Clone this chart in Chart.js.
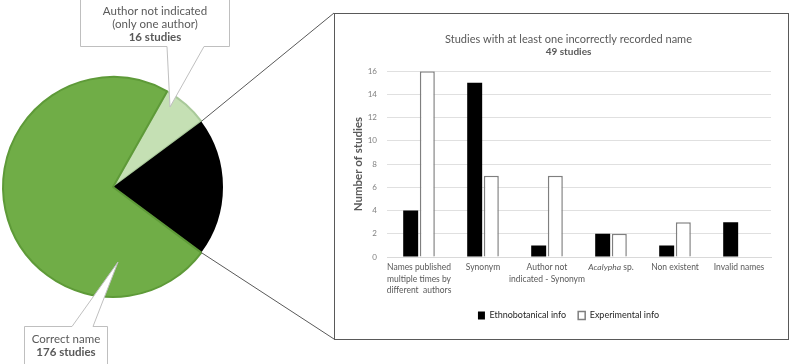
<!DOCTYPE html>
<html>
<head>
<meta charset="utf-8">
<script src="https://cdn.jsdelivr.net/npm/chart.js@4/dist/chart.umd.min.js"></script>
<style>
  html, body { margin: 0; padding: 0; background: #fff; }
  #wrap { position: relative; width: 790px; height: 364px; overflow: hidden; background: #fff; }
  #pie { position: absolute; left: 0; top: 0; }
  #box { position: absolute; left: 334px; top: 13px; width: 455px; height: 327px; box-sizing: border-box; border: 1px solid #595959; background: #fff; }
  #bar { position: absolute; left: 335px; top: 14px; }
</style>
</head>
<body>
<div id="wrap">
  <canvas id="pie" width="790" height="364"></canvas>
  <div id="box"></div>
  <canvas id="bar" width="453" height="325"></canvas>
</div>
<script>
// ---- data ----
const pieLabels = ['Author not indicated (only one author)', 'Studies with at least one incorrectly recorded name', 'Correct name'];
const pieValues = [16, 49, 176];
const barCategories = [
  ['Names published', 'multiple times by', 'different  authors'],
  'Synonym',
  ['Author not', 'indicated - Synonym'],
  'Acalypha sp.',
  'Non existent',
  'Invalid names'
];
const seriesNames = ['Ethnobotanical info', 'Experimental info'];
const ethnoValues = [4, 15, 1, 2, 1, 3];
const experValues = [16, 7, 7, 2, 3, null];
const yMin = 0, yMax = 16, yStep = 2;

const FONT = 'Lato, "Open Sans", sans-serif';
Chart.defaults.font.family = FONT;

// ---- pie ----
const boxEl = document.getElementById('box');
const pieDecor = {
  id: 'pieDecor',
  afterDraw(chart) {
    const ctx = chart.ctx;
    const arc = chart.getDatasetMeta(0).data[1];
    const r = arc.outerRadius;
    const bx = boxEl.offsetLeft, by = boxEl.offsetTop, bh = boxEl.offsetHeight;
    ctx.save();
    ctx.strokeStyle = '#595959';
    ctx.lineWidth = 1;
    ctx.beginPath();
    ctx.moveTo(arc.x + r * Math.cos(arc.startAngle), arc.y + r * Math.sin(arc.startAngle));
    ctx.lineTo(bx, by);
    ctx.moveTo(arc.x + r * Math.cos(arc.endAngle), arc.y + r * Math.sin(arc.endAngle));
    ctx.lineTo(bx, by + bh - 1);
    ctx.stroke();

    function callout(pts, lines, cx, y0) {
      ctx.beginPath();
      pts.forEach((p, i) => i ? ctx.lineTo(p[0], p[1]) : ctx.moveTo(p[0], p[1]));
      ctx.closePath();
      ctx.fillStyle = '#fff';
      ctx.fill();
      ctx.strokeStyle = '#bfbfbf';
      ctx.lineWidth = 1;
      ctx.stroke();
      ctx.fillStyle = '#595959';
      ctx.textAlign = 'center';
      ctx.textBaseline = 'middle';
      lines.forEach((l, i) => {
        ctx.font = (l.bold ? 'bold ' : '') + '11.5px ' + FONT;
        ctx.fillText(l.t, cx, y0 + i * 13);
      });
    }
    callout([[80.5, -1], [229.5, -1], [229.5, 46.5], [204, 46.5], [170, 107], [167, 46.5], [80.5, 46.5]],
      [{t: 'Author not indicated'}, {t: '(only one author)'}, {t: pieValues[0] + ' studies', bold: true}], 155, 11);
    callout([[24.5, 326.5], [72, 326.5], [118, 262], [93, 326.5], [107.5, 326.5], [107.5, 366], [24.5, 366]],
      [{t: 'Correct name'}, {t: pieValues[2] + ' studies', bold: true}], 66, 339);
    ctx.restore();
  }
};

new Chart(document.getElementById('pie'), {
  type: 'pie',
  data: {
    labels: pieLabels,
    datasets: [{
      data: pieValues,
      backgroundColor: ['#C5E0B4', '#000000', '#70AD47'],
      borderColor: ['#A9C99A', '#000000', '#5E9A38'],
      borderWidth: [2, 0, 2]
    }]
  },
  options: {
    responsive: false,
    animation: false,
    rotation: 29.5,
    layout: { padding: { left: 2, top: 76, right: 566, bottom: 66 } },
    plugins: { legend: { display: false }, tooltip: { enabled: false } }
  },
  plugins: [pieDecor]
});

// ---- bar ----
const italicTick = {
  id: 'italicTick',
  afterDraw(chart) {
    const xs = chart.scales.x;
    const idx = 3;
    const items = xs.getLabelItems();
    const it = items[idx];
    if (!it) return;
    const ctx = chart.ctx;
    const [tx, ty] = it.options.translation;
    ctx.save();
    ctx.fillStyle = '#595959';
    ctx.textBaseline = it.options.textBaseline || 'top';
    const y = ty + (it.textOffset || 0);
    const a = 'Acalypha', b = ' sp.';
    ctx.font = 'italic 8.5px ' + FONT;
    const wa = ctx.measureText(a).width;
    ctx.font = '8.5px ' + FONT;
    const wb = ctx.measureText(b).width;
    const x0 = tx - (wa + wb) / 2;
    ctx.textAlign = 'left';
    ctx.font = 'italic 8.5px ' + FONT;
    ctx.fillText(a, x0, y);
    ctx.font = '8.5px ' + FONT;
    ctx.fillText(b, x0 + wa, y);
    ctx.restore();
  }
};

new Chart(document.getElementById('bar'), {
  type: 'bar',
  data: {
    labels: barCategories,
    datasets: [
      { label: seriesNames[0], data: ethnoValues, backgroundColor: '#000000', borderColor: '#000000', borderWidth: 0 },
      { label: seriesNames[1], data: experValues, backgroundColor: '#ffffff', borderColor: '#7f7f7f', borderWidth: 1.5 }
    ]
  },
  options: {
    responsive: false,
    animation: false,
    datasets: { bar: { categoryPercentage: 0.52, barPercentage: 0.9 } },
    layout: { padding: { left: 31, right: 17, top: 0, bottom: 9 } },
    scales: {
      x: {
        afterFit(s) { s.height = 42; },
        grid: { display: false, drawTicks: false },
        border: { display: true, color: '#d9d9d9', width: 1 },
        ticks: {
          padding: 5,
          maxRotation: 0,
          autoSkip: false,
          font: { size: 8.5, lineHeight: 1.35 },
          color: (c) => c.index === 3 ? 'rgba(0,0,0,0)' : '#595959'
        }
      },
      y: {
        min: yMin, max: yMax,
        afterFit(s) { s.width = 21; },
        grid: { color: '#e0e0e0', drawTicks: false },
        border: { display: false },
        ticks: { stepSize: yStep, padding: 10, font: { size: 8 }, color: '#7f7f7f' },
        title: { display: true, text: 'Number of studies', color: '#595959', font: { size: 11.5, weight: 'bold' }, padding: { top: -14.5, bottom: 0 } }
      }
    },
    plugins: {
      title: { display: true, text: 'Studies with at least one incorrectly recorded name', color: '#595959', font: { size: 11, weight: 'normal' }, padding: { top: 19, bottom: 0 } },
      subtitle: { display: true, text: '49 studies', color: '#595959', font: { size: 10, weight: 'bold' }, padding: { top: 0, bottom: 13 } },
      legend: {
        position: 'bottom',
        labels: { boxWidth: 7, boxHeight: 8, padding: 12, color: '#262626', font: { size: 9 } }
      },
      tooltip: { enabled: false }
    }
  },
  plugins: [italicTick]
});
</script>
</body>
</html>
